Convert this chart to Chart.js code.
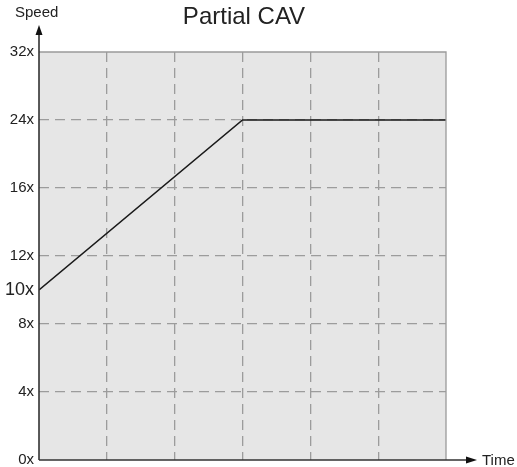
<!DOCTYPE html>
<html>
<head>
<meta charset="utf-8">
<script src="https://cdn.jsdelivr.net/npm/chart.js@4"></script>
<style>
  html, body { margin: 0; padding: 0; background: #fff; }
  #wrap { width: 517px; height: 467px; }
</style>
</head>
<body>
<div id="wrap"><canvas id="cavChart"></canvas></div>
<script>
// Chart data
const timeSteps = [0, 3, 6];
const speedValues = [10, 24, 24];
const speedLevels = [0, 4, 8, 12, 16, 24, 32];   // evenly spaced on the axis
const speedTicks = [0, 4, 8, 10, 12, 16, 24, 32];
const timeGrid = [0, 1, 2, 3, 4, 5, 6];
const titleText = 'Partial CAV';
const yAxisName = 'Speed';
const xAxisName = 'Time';

const FONT = '"Liberation Sans", Arial, sans-serif';

// speed -> level index (piecewise linear between the labelled speeds)
function toLevel(v) {
    for (let i = 1; i < speedLevels.length; i++) {
        if (v <= speedLevels[i]) {
            const a = speedLevels[i - 1], b = speedLevels[i];
            return i - 1 + (v - a) / (b - a);
        }
    }
    return speedLevels.length - 1;
}
function fromLevel(l) {
    const i = Math.max(0, Math.min(speedLevels.length - 2, Math.floor(l)));
    return speedLevels[i] + (l - i) * (speedLevels[i + 1] - speedLevels[i]);
}

// Linear scale that places the speed marks evenly, like the drawing
class StepScale extends Chart.LinearScale {
    getPixelForValue(v) { return super.getPixelForValue(toLevel(v)); }
    getValueForPixel(p) { return fromLevel(super.getValueForPixel(p)); }
}
StepScale.id = 'stepscale';
StepScale.defaults = Chart.LinearScale.defaults;
Chart.register(StepScale);

// Draws plot background, frame, arrows, title and axis names
const decorations = {
    id: 'decorations',
    beforeDraw(chart) {
        const { ctx, chartArea: a } = chart;
        ctx.save();
        ctx.fillStyle = '#e6e6e6';
        ctx.fillRect(a.left, a.top, a.right - a.left, a.bottom - a.top);
        ctx.restore();
    },
    afterDraw(chart) {
        const { ctx, chartArea: a } = chart;
        ctx.save();
        // gray top/right frame
        ctx.strokeStyle = '#9a9a9a';
        ctx.lineWidth = 1.3;
        ctx.beginPath();
        ctx.moveTo(a.left, a.top);
        ctx.lineTo(a.right, a.top);
        ctx.lineTo(a.right, a.bottom);
        ctx.stroke();

        // axes with arrows
        ctx.strokeStyle = '#333';
        ctx.fillStyle = '#111';
        ctx.lineWidth = 1.6;
        ctx.beginPath();
        ctx.moveTo(a.left, a.bottom);
        ctx.lineTo(a.left, 32);
        ctx.moveTo(a.left, a.bottom);
        ctx.lineTo(468, a.bottom);
        ctx.stroke();
        ctx.beginPath();
        ctx.moveTo(a.left, 25);
        ctx.lineTo(a.left - 3.5, 35);
        ctx.lineTo(a.left + 3.5, 35);
        ctx.closePath();
        ctx.fill();
        ctx.beginPath();
        ctx.moveTo(477, a.bottom);
        ctx.lineTo(466, a.bottom - 3.5);
        ctx.lineTo(466, a.bottom + 3.5);
        ctx.closePath();
        ctx.fill();

        // labels
        ctx.fillStyle = '#222';
        ctx.font = '15px ' + FONT;
        ctx.textBaseline = 'middle';
        ctx.textAlign = 'left';
        ctx.fillText(yAxisName, 15, 13);
        ctx.fillText(xAxisName, 482, a.bottom + 1);
        ctx.font = '24px ' + FONT;
        ctx.textAlign = 'center';
        ctx.fillText(titleText, 244, 17);
        ctx.restore();
    }
};

new Chart(document.getElementById('cavChart'), {
    type: 'line',
    data: {
        datasets: [{
            data: timeSteps.map((t, i) => ({ x: t, y: speedValues[i] })),
            borderColor: '#1a1a1a',
            borderWidth: 1.6,
            pointRadius: 0,
            tension: 0,
            fill: false
        }]
    },
    options: {
        responsive: true,
        maintainAspectRatio: false,
        animation: false,
        layout: { padding: { left: 0, top: 52, right: 71, bottom: 7 } },
        plugins: {
            legend: { display: false },
            tooltip: { enabled: false }
        },
        scales: {
            x: {
                type: 'linear',
                min: 0,
                max: 6,
                afterBuildTicks: s => { s.ticks = timeGrid.map(v => ({ value: v })); },
                afterFit: s => { s.height = 0; },
                border: { display: false, dash: [10, 6] },
                ticks: { display: false },
                grid: {
                    drawTicks: false,
                    color: c => (c.tick.value === 0 || c.tick.value === 6) ? 'rgba(0,0,0,0)' : '#9c9c9c',
                    lineWidth: 1.3
                }
            },
            y: {
                type: 'stepscale',
                min: 0,
                max: speedLevels.length - 1,
                afterBuildTicks: s => { s.ticks = speedTicks.map(v => ({ value: v })); },
                afterFit: s => {
                    s.width = 39;
                    s.paddingTop = 0;
                    s.paddingBottom = 0;
                },
                border: { display: false, dash: [10, 6] },
                grid: {
                    drawTicks: false,
                    color: c => [0, 10, 32].includes(c.tick.value) ? 'rgba(0,0,0,0)' : '#9c9c9c',
                    lineWidth: 1.3
                },
                ticks: {
                    padding: 5,
                    color: '#222',
                    callback: v => v + 'x',
                    font: c => ({
                        family: FONT,
                        size: c.tick && c.tick.value === 10 ? 18 : 15
                    })
                }
            }
        }
    },
    plugins: [decorations]
});
</script>
</body>
</html>
